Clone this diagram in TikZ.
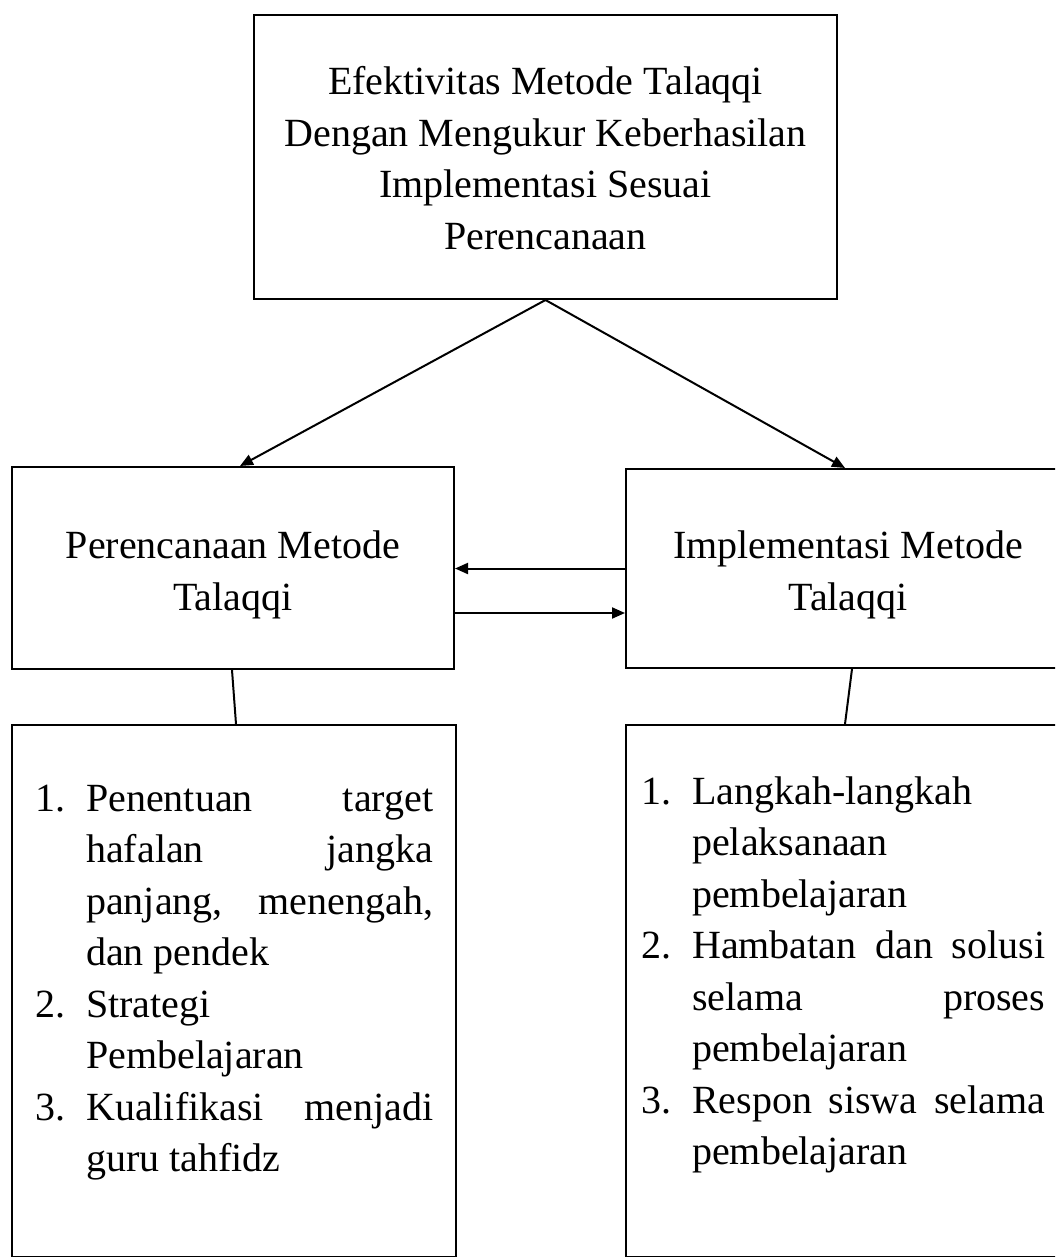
\documentclass[tikz,border=0pt]{standalone}
\usepackage{fontspec}
\setmainfont{Liberation Serif}
\usetikzlibrary{arrows.meta}
\newcommand{\ListJ}[3]{\hbox{\makebox[51pt][l]{#1}\makebox[#2][s]{#3}}}
\newcommand{\ListL}[3]{\hbox{\makebox[51pt][l]{#1}\makebox[#2][l]{#3}}}
\tikzset{
  box/.style={draw=black, line width=2pt, rectangle, inner sep=0pt},
  txt/.style={inner sep=0pt, anchor=base, font=\fontsize{40}{51.5}\selectfont, text=black},
  lst/.style={inner sep=0pt, anchor=base west, font=\fontsize{40}{51.5}\selectfont, text=black},
  arr/.style={line width=2pt, -{Triangle[length=13pt,width=11pt]}},
  conn/.style={line width=2pt}
}
\begin{document}
\begin{tikzpicture}[x=1pt,y=-1pt]
\useasboundingbox (0,0) rectangle (1055,1257);
\clip (0,0) rectangle (1055,1257);
\fill[white] (0,0) rectangle (1055,1257);
% boxes
\node[box, minimum width=583pt, minimum height=284pt] (top) at (545.5,157) {};
\node[box, minimum width=442pt, minimum height=202pt] (lmid) at (233,568) {};
\node[box, minimum width=444pt, minimum height=199pt] (rmid) at (848,568.5) {};
\node[box, minimum width=444pt, minimum height=532pt] (lbot) at (234,991) {};
\node[box, minimum width=444pt, minimum height=532pt] (rbot) at (848,991) {};
% top text
\node[txt] (t1) at (545.5,95) {Efektivitas Metode Talaqqi};
\node[txt] (t2) at (545.5,147) {Dengan Mengukur Keberhasilan};
\node[txt] (t3) at (545.5,198) {Implementasi Sesuai};
\node[txt] (t4) at (545.5,250) {Perencanaan};
% middle texts
\node[txt] (l1) at (233,558) {Perencanaan Metode};
\node[txt] (l2) at (233,610) {Talaqqi};
\node[txt] (r1) at (848,558) {Implementasi Metode};
\node[txt] (r2) at (848,610) {Talaqqi};
% lists
\node[lst] (llist) at (35,811) {\vtop{\baselineskip=51.5pt\lineskiplimit=-100pt
\ListJ{1.}{347pt}{Penentuan target}
\ListJ{}{347pt}{hafalan jangka}
\ListJ{}{347pt}{panjang, menengah,}
\ListL{}{347pt}{dan pendek}
\ListL{2.}{347pt}{Strategi}
\ListL{}{347pt}{Pembelajaran}
\ListJ{3.}{347pt}{Kualifikasi menjadi}
\ListL{}{347pt}{guru tahfidz}}};
\node[lst] (rlist) at (641,804) {\vtop{\baselineskip=51.5pt\lineskiplimit=-100pt
\ListL{1.}{353pt}{Langkah-langkah}
\ListL{}{353pt}{pelaksanaan}
\ListL{}{353pt}{pembelajaran}
\ListJ{2.}{353pt}{Hambatan dan solusi}
\ListJ{}{353pt}{selama proses}
\ListL{}{353pt}{pembelajaran}
\ListJ{3.}{353pt}{Respon siswa selama}
\ListL{}{353pt}{pembelajaran}}};
% connectors
\draw[arr] (top.south) -- ([xshift=7pt]lmid.north);
\draw[arr] (top.south) -- ([xshift=-3pt]rmid.north);
\draw[arr] (rmid.west) -- (rmid.west -| lmid.east);
\draw[arr] ([yshift=-45pt]lmid.east) -- ([yshift=-45pt]lmid.east -| rmid.west);
\draw[conn] ([xshift=-1pt]lmid.south) -- ([xshift=2pt]lbot.north);
\draw[conn] ([xshift=4pt]rmid.south) -- ([xshift=-3pt]rbot.north);
\end{tikzpicture}
\end{document}
